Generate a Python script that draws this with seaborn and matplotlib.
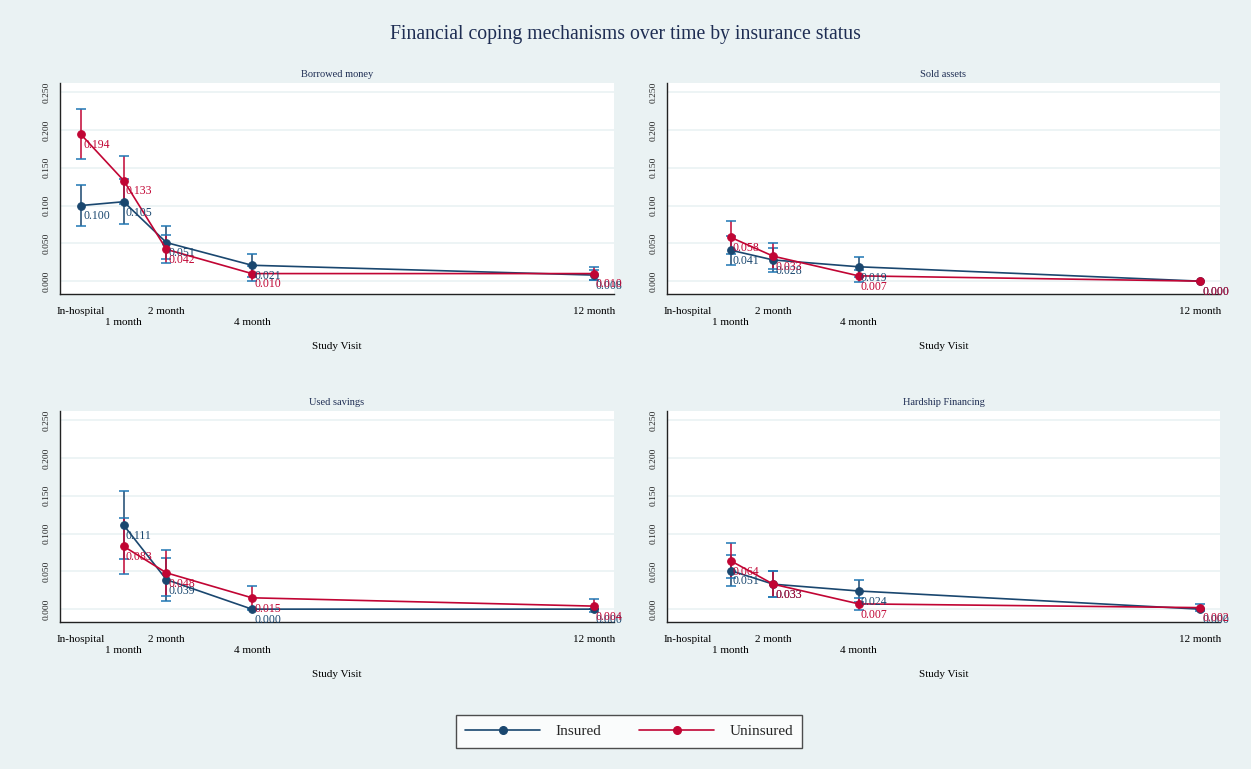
import numpy as np
import pandas as pd
import matplotlib.pyplot as plt
from matplotlib.lines import Line2D
import seaborn as sns

# --- DATA ---
visits = [0, 1, 2, 4, 12]
visit_labels = ["In-hospital", "1 month", "2 month", "4 month", "12 month"]
groups = ["Insured", "Uninsured"]
panel_titles = ["Borrowed money", "Sold assets", "Used savings", "Hardship Financing"]

# Borrowed money
borrow_ins = [0.100, 0.105, 0.051, 0.021, 0.008]
borrow_ins_lo = [0.073, 0.075, 0.029, 0.006, 0.001]
borrow_ins_hi = [0.127, 0.135, 0.073, 0.036, 0.015]
borrow_unins = [0.194, 0.133, 0.042, 0.010, 0.010]
borrow_unins_lo = [0.161, 0.102, 0.024, 0.000, 0.001]
borrow_unins_hi = [0.227, 0.165, 0.061, 0.020, 0.019]

# Sold assets (no in-hospital measure)
sold_ins = [None, 0.041, 0.028, 0.019, 0.000]
sold_ins_lo = [None, 0.022, 0.012, 0.006, 0.000]
sold_ins_hi = [None, 0.060, 0.044, 0.032, 0.000]
sold_unins = [None, 0.058, 0.033, 0.007, 0.000]
sold_unins_lo = [None, 0.036, 0.016, -0.001, 0.000]
sold_unins_hi = [None, 0.080, 0.050, 0.015, 0.000]

# Used savings
savings_ins = [None, 0.111, 0.039, 0.000, 0.000]
savings_ins_lo = [None, 0.066, 0.011, 0.000, 0.000]
savings_ins_hi = [None, 0.156, 0.067, 0.000, 0.000]
savings_unins = [None, 0.083, 0.048, 0.015, 0.004]
savings_unins_lo = [None, 0.046, 0.018, -0.001, -0.004]
savings_unins_hi = [None, 0.120, 0.078, 0.031, 0.013]

# Hardship financing
hardship_ins = [None, 0.051, 0.033, 0.024, 0.000]
hardship_ins_lo = [None, 0.030, 0.016, 0.009, 0.000]
hardship_ins_hi = [None, 0.072, 0.051, 0.039, 0.000]
hardship_unins = [None, 0.064, 0.033, 0.007, 0.002]
hardship_unins_lo = [None, 0.041, 0.016, -0.001, -0.002]
hardship_unins_hi = [None, 0.087, 0.050, 0.015, 0.007]

panels = [
    (borrow_ins, borrow_ins_lo, borrow_ins_hi, borrow_unins, borrow_unins_lo, borrow_unins_hi),
    (sold_ins, sold_ins_lo, sold_ins_hi, sold_unins, sold_unins_lo, sold_unins_hi),
    (savings_ins, savings_ins_lo, savings_ins_hi, savings_unins, savings_unins_lo, savings_unins_hi),
    (hardship_ins, hardship_ins_lo, hardship_ins_hi, hardship_unins, hardship_unins_lo, hardship_unins_hi),
]

# --- STYLE ---
bg = "#EAF2F3"
navy = "#1A476F"
cranberry = "#C10534"
txt = "#1E2D53"
palette = {"Insured": navy, "Uninsured": cranberry}

sns.set_style("white")
plt.rcParams["font.family"] = ["Liberation Serif", "DejaVu Serif"]

fig = plt.figure(figsize=(12.51, 7.69), dpi=100, facecolor=bg)
fig.text(0.5, 1 - 35 / 769, "Financial coping mechanisms over time by insurance status",
         ha="center", va="center", fontsize=14.2, color=txt)

# axes boxes in pixels: left, top, right, bottom
boxes = [(60, 83, 614, 294), (667, 83, 1220, 294), (60, 411, 614, 622), (667, 411, 1220, 622)]

for (l, t, r, b), title, vals in zip(boxes, panel_titles, panels):
    ax = fig.add_axes([l / 1251, 1 - b / 769, (r - l) / 1251, (b - t) / 769])
    ax.set_facecolor("white")

    rows = []
    for g, (y, lo, hi) in zip(groups, [vals[0:3], vals[3:6]]):
        for xv, yv, lv, hv in zip(visits, y, lo, hi):
            if yv is not None:
                rows.append({"visit": xv, "value": yv, "lo": lv, "hi": hv, "group": g})
    df = pd.DataFrame(rows)

    for g in groups:
        d = df[df["group"] == g]
        ax.errorbar(d["visit"], d["value"],
                    yerr=[d["value"] - d["lo"], d["hi"] - d["value"]],
                    fmt="none", ecolor=palette[g], elinewidth=1.1, capsize=3.5, capthick=1.1, zorder=2)

    sns.lineplot(data=df, x="visit", y="value", hue="group", palette=palette,
                 marker="o", markersize=5.5, linewidth=1.2,
                 estimator=None, errorbar=None, sort=False, legend=False, ax=ax, zorder=3)
    for line in ax.lines:
        line.set_markeredgecolor(line.get_color())

    for _, row in df.iterrows():
        ax.annotate(f"{row['value']:.3f}", (row["visit"], row["value"]),
                    xytext=(1.5, -3.5), textcoords="offset points", ha="left", va="top",
                    fontsize=8.5, color=palette[row["group"]], zorder=4)

    ax.set_xlim(-0.49, 12.47)
    ax.set_ylim(-0.017, 0.262)
    yt = np.arange(0, 0.2501, 0.05)
    ax.set_yticks(yt)
    ax.set_yticklabels([f"{v:.3f}" for v in yt], rotation=90, va="center", fontsize=6.8, color="#222222")
    ax.set_xticks(visits)
    ax.set_xticklabels(["In-hospital", "\n1 month", "2 month", "\n4 month", "12 month"],
                       fontsize=8, color="black")
    ax.tick_params(axis="both", direction="out", width=0.8, color="#333333")
    ax.tick_params(axis="y", length=3.5, pad=3.3)
    ax.tick_params(axis="x", length=5, pad=4.5)
    ax.grid(axis="y", color=bg, linewidth=1.2)
    ax.grid(axis="x", visible=False)
    ax.set_axisbelow(True)
    for s in ["top", "right"]:
        ax.spines[s].set_visible(False)
    for s in ["left", "bottom"]:
        ax.spines[s].set_color("#222222")
        ax.spines[s].set_linewidth(1.0)
    ax.set_xlabel("Study Visit", fontsize=8, color="black", labelpad=11)
    ax.set_ylabel("")
    ax.set_title(title, fontsize=7.5, color=txt, pad=4)

handles = [Line2D([0], [0], color=palette[g], marker="o", markersize=5.5, linewidth=1.2) for g in groups]
leg = fig.legend(handles, groups, loc="center", bbox_to_anchor=(629 / 1251, 1 - 731.5 / 769),
                 ncol=2, fontsize=11, frameon=True, fancybox=False, edgecolor="#222222",
                 handlelength=4.9, columnspacing=2.5, handletextpad=1.0, borderpad=0.6,
                 borderaxespad=0)
leg.get_frame().set_linewidth(1.0)
leg.get_frame().set_facecolor("white")

fig.savefig("out.png", dpi=100, facecolor=bg)
